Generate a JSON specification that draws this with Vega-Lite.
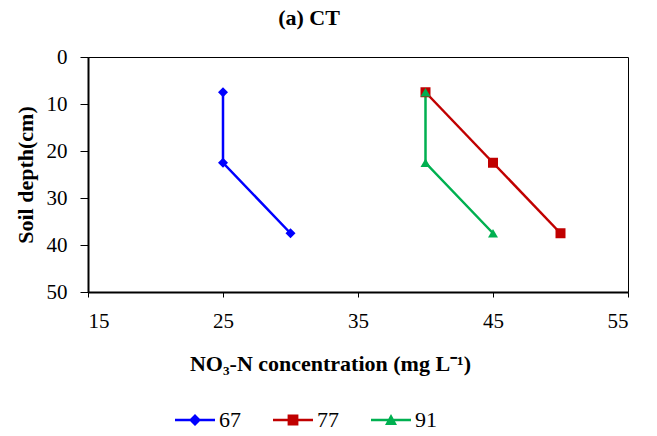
{
  "$schema": "https://vega.github.io/schema/vega-lite/v6.json",
  "width": 540,
  "height": 235,
  "autosize": {"type": "none"},
  "padding": {"left": 88, "top": 57, "right": 29, "bottom": 144},
  "background": "white",
  "title": {
    "text": "(a) CT",
    "font": "Liberation Serif",
    "fontSize": 22,
    "fontWeight": "bold",
    "color": "black",
    "anchor": "middle",
    "baseline": "alphabetic",
    "offset": -1,
    "dx": -49
  },
  "config": {
    "view": {"stroke": "black", "strokeWidth": 1},
    "axis": {
      "labelFont": "Liberation Serif",
      "labelFontSize": 21,
      "labelColor": "black",
      "titleFont": "Liberation Serif",
      "titleFontSize": 22,
      "titleFontWeight": "bold",
      "titleColor": "black",
      "domainColor": "black",
      "domainWidth": 2,
      "tickColor": "black",
      "tickWidth": 1,
      "grid": false
    }
  },
  "data": {
    "values": [
      {"series": "67", "conc": 25, "depth": 7.5},
      {"series": "67", "conc": 25, "depth": 22.5},
      {"series": "67", "conc": 30, "depth": 37.5},
      {"series": "77", "conc": 40, "depth": 7.5},
      {"series": "77", "conc": 45, "depth": 22.5},
      {"series": "77", "conc": 50, "depth": 37.5},
      {"series": "91", "conc": 40, "depth": 7.5},
      {"series": "91", "conc": 40, "depth": 22.5},
      {"series": "91", "conc": 45, "depth": 37.5}
    ]
  },
  "encoding": {
    "x": {
      "field": "conc",
      "type": "quantitative",
      "scale": {"domain": [15, 55], "nice": false, "zero": false},
      "axis": {
        "values": [15, 25, 35, 45, 55],
        "tickSize": 5,
        "labelPadding": 13,
        "labelFont": "Liberation Serif",
        "labelFontSize": 21,
        "title": "NO₃-N concentration (mg L⁻¹)",
        "titleX": 242,
        "titleY": 71,
        "titleAlign": "center",
        "titleBaseline": "middle"
      }
    },
    "y": {
      "field": "depth",
      "type": "quantitative",
      "scale": {"domain": [0, 50], "reverse": true, "nice": false},
      "axis": {
        "values": [0, 10, 20, 30, 40, 50],
        "tickSize": 8,
        "labelPadding": 13,
        "labelFont": "Liberation Serif",
        "labelFontSize": 21,
        "title": "Soil depth(cm)",
        "titleX": -63,
        "titleBaseline": "middle"
      }
    }
  },
  "layer": [
    {
      "mark": {
        "type": "line",
        "strokeWidth": 2.5,
        "color": {"expr": "datum.series === '67' ? '#0000FF' : datum.series === '77' ? '#C00000' : '#00B050'"}
      },
      "encoding": {
        "detail": {"field": "series"},
        "order": {"field": "depth", "type": "quantitative"}
      }
    },
    {
      "mark": {
        "type": "point",
        "filled": true,
        "size": 100,
        "opacity": 1,
        "color": {"expr": "datum.series === '67' ? '#0000FF' : datum.series === '77' ? '#C00000' : '#00B050'"},
        "shape": {"expr": "datum.series === '67' ? 'diamond' : datum.series === '77' ? 'square' : 'triangle-up'"}
      }
    },
    {
      "mark": {"type": "point", "filled": true, "size": 100, "opacity": 0},
      "encoding": {
        "color": {
          "field": "series",
          "type": "nominal",
          "scale": {"domain": ["67", "77", "91"], "range": ["#0000FF", "#C00000", "#00B050"]},
          "legend": {
            "orient": "none", "legendX": 87, "legendY": 343, "direction": "horizontal", "title": null,
            "padding": 0, "symbolSize": 1600, "symbolOpacity": 1, "symbolStrokeWidth": 0,
            "labelFont": "Liberation Serif", "labelFontSize": 22, "labelColor": "black",
            "labelOffset": 4, "columnPadding": 32
          }
        },
        "shape": {
          "field": "series",
          "type": "nominal",
          "scale": {
            "domain": ["67", "77", "91"],
            "range": [
              "M-1,-0.0625H1V0.0625H-1ZM0,-0.3L0.3,0L0,0.3L-0.3,0Z",
              "M-1,-0.0625H1V0.0625H-1ZM-0.27,-0.27H0.27V0.27H-0.27Z",
              "M-1,-0.0625H1V0.0625H-1ZM0,-0.3L0.3,0.25L-0.3,0.25Z"
            ]
          },
          "legend": {
            "orient": "none", "legendX": 87, "legendY": 343, "direction": "horizontal", "title": null,
            "padding": 0, "symbolSize": 1600, "symbolOpacity": 1, "symbolStrokeWidth": 0,
            "labelFont": "Liberation Serif", "labelFontSize": 22, "labelColor": "black",
            "labelOffset": 4, "columnPadding": 32
          }
        }
      }
    }
  ]
}
